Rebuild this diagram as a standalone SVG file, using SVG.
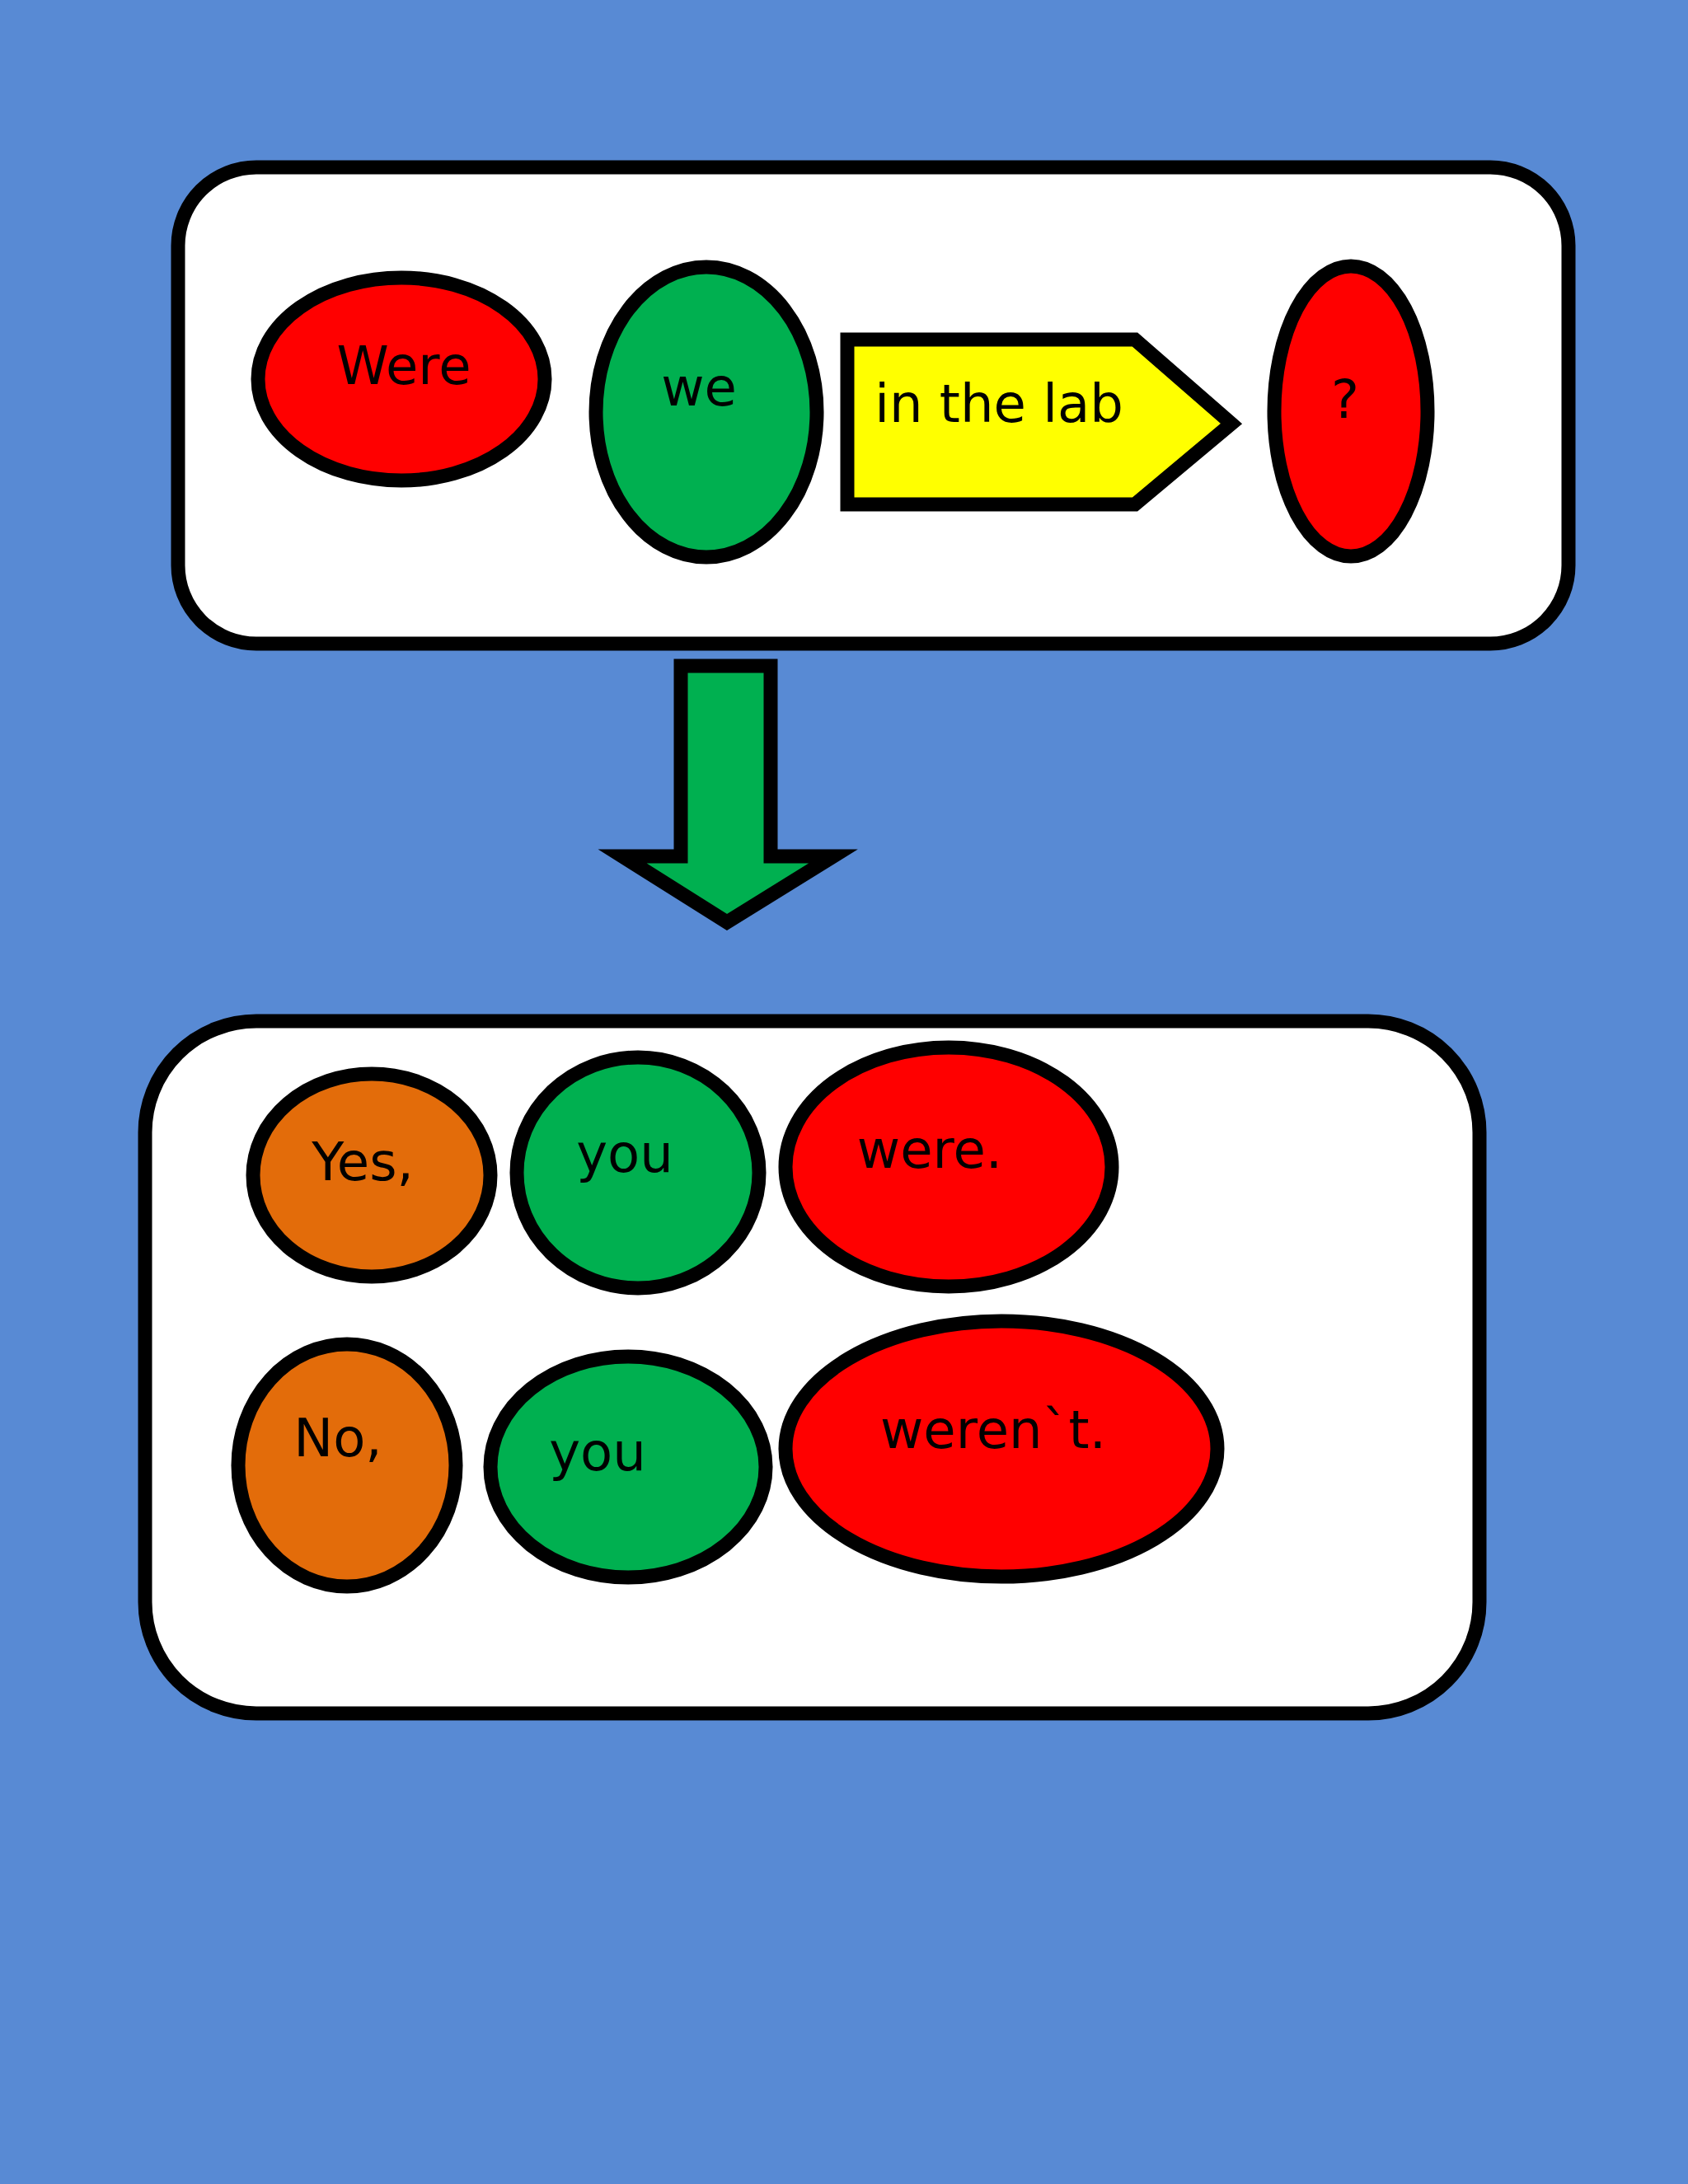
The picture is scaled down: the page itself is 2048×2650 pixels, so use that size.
<svg xmlns="http://www.w3.org/2000/svg" width="2048" height="2650" viewBox="0 0 2048 2650">
<style>
.s{stroke:#000;stroke-width:17}
.t{font-family:"DejaVu Sans",sans-serif;font-size:64px;fill:#000;text-anchor:middle;dominant-baseline:central}
</style>
<rect width="2048" height="2650" fill="#588ad4"/>
<g id="topbox"><rect class="s" x="216" y="203" width="1687" height="578" rx="95" fill="#fff"/></g>
<g id="were"><ellipse class="s" cx="487" cy="460" rx="174" ry="123" fill="#ff0000"/><text class="t" x="490" y="444">Were</text></g>
<g id="we"><ellipse class="s" cx="857" cy="500" rx="134" ry="176" fill="#00b050"/><text class="t" x="848" y="470">we</text></g>
<g id="inthelab"><polygon class="s" points="1028,412 1377,412 1494,514 1377,612 1028,612" fill="#ffff00"/><text class="t" x="1212" y="490">in the lab</text></g>
<g id="q"><ellipse class="s" cx="1639" cy="499" rx="93" ry="176" fill="#ff0000"/><text class="t" x="1632" y="485">?</text></g>
<g id="connectors"><polygon class="s" points="826,808 935,808 935,1039 1011,1039 882,1119 755,1039 826,1039" fill="#00b050"/></g>
<g id="bottombox"><rect class="s" x="176" y="1239" width="1619" height="840" rx="135" fill="#fff"/></g>
<g id="yes"><ellipse class="s" cx="451" cy="1426" rx="144" ry="123" fill="#e36c0a"/><text class="t" x="440" y="1410">Yes,</text></g>
<g id="you1"><ellipse class="s" cx="774" cy="1423" rx="147" ry="140" fill="#00b050"/><text class="t" x="758" y="1400">you</text></g>
<g id="were2"><ellipse class="s" cx="1151" cy="1416" rx="198" ry="145" fill="#ff0000"/><text class="t" x="1128" y="1395">were.</text></g>
<g id="no"><ellipse class="s" cx="421" cy="1778" rx="132" ry="147" fill="#e36c0a"/><text class="t" x="410" y="1745">No,</text></g>
<g id="you2"><ellipse class="s" cx="762" cy="1780" rx="167" ry="134" fill="#00b050"/><text class="t" x="725" y="1762">you</text></g>
<g id="werent"><ellipse class="s" cx="1215" cy="1758" rx="262" ry="155" fill="#ff0000"/><text class="t" x="1205" y="1735">weren`t.</text></g>
</svg>
